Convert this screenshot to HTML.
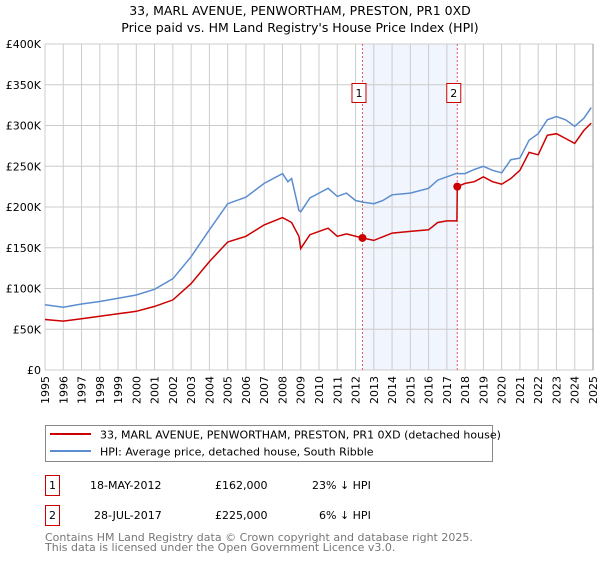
<!DOCTYPE html>
<html><head><meta charset="utf-8"><style>
body{margin:0;background:#fff;width:600px;height:560px;overflow:hidden;font-family:"DejaVu Sans","Liberation Sans",sans-serif;}
svg text{font-family:"DejaVu Sans","Liberation Sans",sans-serif;}
</style></head><body>
<svg id="chart" width="600" height="560" xmlns="http://www.w3.org/2000/svg">
<text x="300" y="15" text-anchor="middle" font-size="12.5">33, MARL AVENUE, PENWORTHAM, PRESTON, PR1 0XD</text>
<text x="300" y="32" text-anchor="middle" font-size="12.5">Price paid vs. HM Land Registry's House Price Index (HPI)</text>
<g id="plot"></g>
<g>
<rect x="45.5" y="425.5" width="447" height="36" fill="#fff" stroke="#888"/>
<line x1="50" y1="434" x2="91" y2="434" stroke="#cc0000" stroke-width="2"/>
<text x="100" y="438.5" font-size="11">33, MARL AVENUE, PENWORTHAM, PRESTON, PR1 0XD (detached house)</text>
<line x1="50" y1="451" x2="91" y2="451" stroke="#5b8dd0" stroke-width="2"/>
<text x="100" y="455.5" font-size="11">HPI: Average price, detached house, South Ribble</text>
</g>
<g font-size="11">
<rect x="45.5" y="475.5" width="14" height="20" fill="#fff" stroke="#cc0000"/>
<text x="52.5" y="489" text-anchor="middle">1</text>
<text x="90" y="489">18-MAY-2012</text>
<text x="215" y="489">£162,000</text>
<text x="312" y="489">23% ↓ HPI</text>
<rect x="45.5" y="505.5" width="14" height="20" fill="#fff" stroke="#cc0000"/>
<text x="52.5" y="519" text-anchor="middle">2</text>
<text x="94" y="519">28-JUL-2017</text>
<text x="215" y="519">£225,000</text>
<text x="319" y="519">6% ↓ HPI</text>
</g>
<text x="45" y="541" font-size="11" fill="#777">Contains HM Land Registry data © Crown copyright and database right 2025.</text>
<text x="45" y="551" font-size="11" fill="#777">This data is licensed under the Open Government Licence v3.0.</text>
</svg>
<script>
const yearTicks=[1995,1996,1997,1998,1999,2000,2001,2002,2003,2004,2005,2006,2007,2008,2009,2010,2011,2012,2013,2014,2015,2016,2017,2018,2019,2020,2021,2022,2023,2024,2025];
const valueTicks=[0,50,100,150,200,250,300,350,400];
const valueLabels=["£0","£50K","£100K","£150K","£200K","£250K","£300K","£350K","£400K"];
const hpiYears=[1995,1996,1997,1998,1999,2000,2001,2002,2003,2004,2005,2006,2007,2008,2008.3,2008.5,2008.9,2009,2009.5,2010,2010.5,2011,2011.5,2012,2012.4,2013,2013.5,2014,2015,2016,2016.5,2017,2017.5,2018,2018.5,2019,2019.5,2020,2020.5,2021,2021.5,2022,2022.5,2023,2023.5,2024,2024.5,2024.9];
const hpiValues=[80,77,81,84,88,92,99,112,139,172,204,212,229,241,231,235,196,194,211,217,223,213,217,208,206,204,208,215,217,223,233,237,241,241,246,250,245,242,258,260,282,290,307,311,307,299,309,322];
const priceYears=[1995,1996,1997,1998,1999,2000,2001,2002,2003,2004,2005,2006,2007,2008,2008.5,2008.9,2009,2009.5,2010,2010.5,2011,2011.5,2012.38,2013,2014,2015,2016,2016.5,2017,2017.55,2017.57,2018,2018.5,2019,2019.5,2020,2020.5,2021,2021.5,2022,2022.5,2023,2023.5,2024,2024.5,2024.9];
const priceValues=[62,60,63,66,69,72,78,86,106,133,157,164,178,187,181,164,149,166,170,174,164,167,162,159,168,170,172,181,183,183,225,229,231,237,231,228,235,245,267,264,288,290,284,278,294,303];
const saleYears=[2012.38,2017.57];
const saleValues=[162,225];
const saleLabels=["1","2"];

const NS="http://www.w3.org/2000/svg";
const X0=45,X1=593,Y0=370,Y1=44;
const xs=y=>X0+(y-1995)*(X1-X0)/30;
const ys=v=>Y0-v*(Y0-Y1)/400;
const g=document.getElementById('plot');
function mk(t,a){const e=document.createElementNS(NS,t);for(const k in a)e.setAttribute(k,a[k]);g.appendChild(e);return e;}
let sh=mk('rect',{x:xs(saleYears[0]),y:Y1,width:xs(saleYears[1])-xs(saleYears[0]),height:Y0-Y1,fill:'#eef3fd',opacity:0.8});


yearTicks.forEach(yr=>{
 const l=mk('line',{x1:xs(yr),x2:xs(yr),y1:Y1,y2:Y0,stroke:'#cccccc','stroke-width':1});
 
 
 const t=mk('text',{x:0,y:0,'font-size':11,'text-anchor':'end',transform:`translate(${xs(yr)+4},${Y0+6}) rotate(-90)`});
 t.textContent=yr;
 
 
});
valueTicks.forEach((v,i)=>{
 const l=mk('line',{x1:X0,x2:X1,y1:ys(v),y2:ys(v),stroke:'#cccccc','stroke-width':1});
 
 
 const t=mk('text',{x:X0-4,y:ys(v)+4,'font-size':11,'text-anchor':'end'});
 t.textContent=valueLabels[i];
 
 
});
saleYears.forEach((yr,i)=>{
 const l=mk('line',{x1:xs(yr),x2:xs(yr),y1:Y1,y2:Y0,stroke:'#ee5555','stroke-width':1,'stroke-dasharray':'2,2'});
 
 
 const r=mk('rect',{x:xs(yr)-10.5,y:83.5,width:14,height:19,fill:'#fff',stroke:'#cc0000'});
 
 
 const t=mk('text',{x:xs(yr)-3.5,y:97,'font-size':11,'text-anchor':'middle'});
 t.textContent=saleLabels[i];
 
 
});
function path(xsA,vs){return xsA.map((y,i)=>(i?'L':'M')+xs(y).toFixed(1)+','+ys(vs[i]).toFixed(1)).join('');}
const hp=mk('path',{d:path(hpiYears,hpiValues),fill:'none',stroke:'#5b8dd0','stroke-width':1.5});


const pp=mk('path',{d:path(priceYears,priceValues),fill:'none',stroke:'#cc0000','stroke-width':1.5});


saleYears.forEach((yr,i)=>{
 const c=mk('circle',{cx:xs(yr),cy:ys(saleValues[i]),r:4,fill:'#cc0000'});
 
 
});
const ax=mk('line',{x1:X1,x2:X1,y1:Y1,y2:Y0,stroke:'#999','stroke-width':1});


</script>
</body></html>
